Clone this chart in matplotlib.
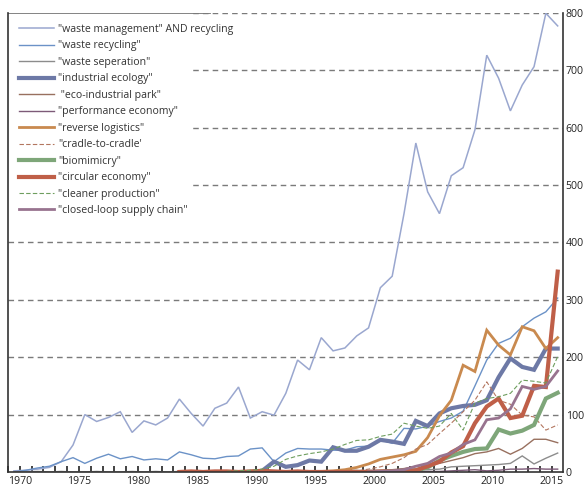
import numpy as np
import matplotlib
matplotlib.use("Agg")
import matplotlib.pyplot as plt
from matplotlib.patches import Rectangle

# --------------------------
# DATA (1969-2015; nan = term not yet in use)
# --------------------------
years = list(range(1969, 2016))
na = np.nan

waste_management = [2, 3, 5, 8, 18, 47, 100, 88, 95, 105, 69, 89, 82, 94, 127, 102, 80, 111, 120, 148,
                    94, 105, 99, 137, 195, 178, 234, 211, 216, 237, 251, 321, 341, 450, 573, 488, 450,
                    516, 530, 596, 726, 686, 629, 674, 706, 799, 777]
waste_recycling = [0, 3, 7, 10, 18, 25, 15, 24, 31, 23, 27, 21, 23, 21, 35, 30, 24, 23, 27, 28,
                   40, 42, 18, 33, 41, 40, 40, 38, 38, 44, 45, 56, 50, 76, 75, 80, 88,
                   94, 106, 150, 195, 224, 233, 253, 268, 279, 303]
waste_separation = [0, 0, 1, 0, 1, 0, 0, 1, 0, 0, 1, 0, 1, 0, 1, 1, 0, 1, 1, 2,
                    1, 2, 1, 2, 2, 1, 2, 2, 3, 2, 3, 3, 3, 4, 3, 4, 5,
                    9, 10, 11, 12, 13, 15, 28, 14, 24, 33]
industrial_ecology = [na] * 20 + [0, 2, 18, 9, 12, 20, 18, 43, 37, 37, 44, 56, 53, 49, 89, 80, 102,
                                  111, 115, 117, 125, 165, 198, 183, 178, 215, 215]
eco_industrial_park = [na] * 14 + [0, 1, 0, 1, 0, 1, 1, 2, 1, 2, 1, 2, 2, 2, 3, 3,
                                   1, 2, 4, 6, 10, 12, 15, 20, 25, 32, 35, 41, 31, 41, 57, 57, 51]
performance_economy = [na] * 30 + [0, 1, 0, 1, 0, 1, 1, 2, 3, 4, 2, 3, 5, 5, 6, 5, 5]
reverse_logistics = [na] * 25 + [0, 1, 2, 4, 8, 14, 22, 26, 30, 36, 60, 98,
                                 125, 186, 175, 247, 221, 204, 253, 246, 215, 234]
cradle_to_cradle = [na] * 14 + [0, 1, 0, 0, 1, 0, 1, 0, 1, 0, 1, 0, 1, 0,
                                1, 2, 5, 9, 15, 25, 40, 48, 67, 85, 105, 125, 157, 125, 118, 99, 96, 73, 82]
biomimicry = [na] * 31 + [0, 1, 2, 3, 8, 20,
                          28, 35, 40, 41, 74, 67, 72, 82, 128, 138]
circular_economy = [na] * 14 + [0, 1, 0, 1, 1, 0, 1, 2, 1, 0, 1, 0, 0, 0, 0, 0, 0,
                                1, 1, 2, 3, 10, 18, 34, 45, 85, 114, 128, 94, 98, 150, 148, 349]
cleaner_production = [na] * 18 + [1, 2, 3, 5, 10, 22, 28, 32, 35, 40, 48, 55, 56, 62, 66, 85, 80, 76, 80,
                                  102, 73, 120, 128, 131, 137, 160, 158, 155, 201]
closed_loop = [na] * 30 + [0, 1, 2, 4, 10, 15, 27,
                           33, 48, 56, 91, 94, 110, 149, 144, 149, 176]

labels = ['"waste management" AND recycling', '"waste recycling"', '"waste seperation"',
          '"industrial ecology"', ' "eco-industrial park"', '"performance economy"',
          '"reverse logistics"', "\"cradle-to-cradle'", '"biomimicry"', '"circular economy"',
          '"cleaner production"', '"closed-loop supply chain"']

series = [waste_management, waste_recycling, waste_separation, industrial_ecology,
          eco_industrial_park, performance_economy, reverse_logistics, cradle_to_cradle,
          biomimicry, circular_economy, cleaner_production, closed_loop]

# colour, width, style per series
styles = [
    ("#9aa7cf", 1.1, "-"),
    ("#6b92c7", 1.0, "-"),
    ("#8c8c8c", 1.0, "-"),
    ("#6d79a6", 3.0, "-"),
    ("#98705f", 1.0, "-"),
    ("#7d5a78", 1.0, "-"),
    ("#c98a4f", 2.0, "-"),
    ("#b3765f", 0.8, (0, (4, 2))),
    ("#7ea679", 3.0, "-"),
    ("#bf5f48", 3.0, "-"),
    ("#6e9e5e", 0.8, (0, (4, 2))),
    ("#98738f", 2.0, "-"),
]

# --------------------------
# PLOT
# --------------------------
plt.rcParams['font.family'] = ['Open Sans', 'DejaVu Sans']

fig = plt.figure(figsize=(5.84, 4.88), dpi=100)
ax = fig.add_axes([8 / 584, 1 - 472 / 488, 555 / 584, 459.3 / 488])

x = np.array(years) + 0.5
for vals, lab, (c, lw, ls) in zip(series, labels, styles):
    ax.plot(x, vals, color=c, lw=lw, ls=ls, label=lab, solid_joinstyle="miter")

ax.set_xlim(1969.0, 2015.95)
ax.set_ylim(0, 800)

# grid (the legend block hides the upper-left part of it)
for v in range(100, 900, 100):
    ax.axhline(v, color="#7a7a7a", lw=1.0, ls=(0, (4, 3)), zorder=0)
ax.add_patch(Rectangle((0, 0.56), 0.333, 0.44, transform=ax.transAxes,
                       facecolor="white", edgecolor="none", zorder=0.5))
ax.axhline(800, xmax=0.364, color="#7a7a7a", lw=1.3, zorder=1)

ax.spines["top"].set_visible(False)
for s in ["left", "right", "bottom"]:
    ax.spines[s].set_color("#333333")
    ax.spines[s].set_linewidth(1.2)
    ax.spines[s].set_zorder(5)

ax.yaxis.tick_right()
ax.set_yticks(range(0, 900, 100))
ax.tick_params(axis="y", length=0, labelsize=7.6, pad=2, colors="#222222")
ax.set_xticks(range(1970, 2016, 5))
ax.set_xticks(range(1969, 2016), minor=True)
ax.tick_params(axis="x", which="both", direction="in", length=4, width=1.2,
               labelsize=7.6, colors="#222222", pad=3)

leg = ax.legend(loc="upper left", frameon=False, fontsize=7.6, handlelength=3.3,
                handletextpad=0.4, labelspacing=0.52, borderaxespad=0.0,
                bbox_to_anchor=(0.012, 0.985))
for t in leg.get_texts():
    t.set_color("#333333")

fig.savefig("out.png", dpi=100)
